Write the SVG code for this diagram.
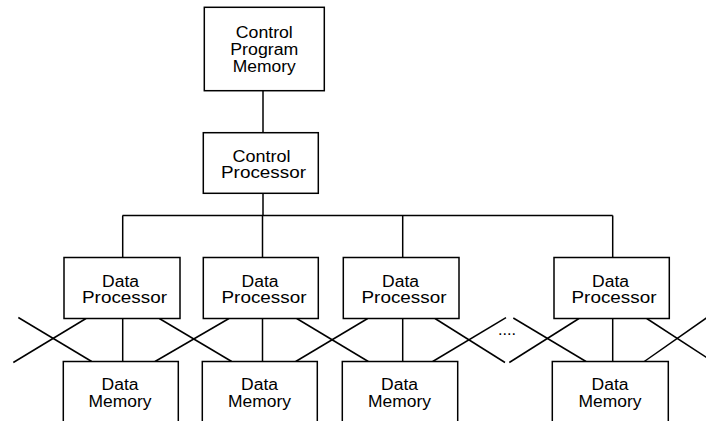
<svg xmlns="http://www.w3.org/2000/svg" width="706" height="421" viewBox="0 0 706 421">
<style>
  .box { fill: #ffffff; stroke: #000000; stroke-width: 1.5; }
  .ln { stroke: #000000; stroke-width: 1.5; fill: none; }
  text { font-family: "Liberation Sans", Arial, sans-serif; font-size: 16px; fill: #000000; text-anchor: middle; }
</style>
<rect width="706" height="421" fill="#ffffff"/>
<g id="connectors">
  <line class="ln" x1="263" y1="90.7" x2="263" y2="132.7"/>
  <line class="ln" x1="263" y1="193.3" x2="263" y2="215.5"/>
  <line class="ln" x1="122.5" y1="215.5" x2="612.7" y2="215.5"/>
  <line class="ln" x1="122.7" y1="215.5" x2="122.7" y2="257.5"/>
  <line class="ln" x1="262.5" y1="215.5" x2="262.5" y2="257.5"/>
  <line class="ln" x1="402.7" y1="215.5" x2="402.7" y2="257.5"/>
  <line class="ln" x1="612.7" y1="215.5" x2="612.7" y2="257.5"/>
  <line class="ln" x1="122.7" y1="318.5" x2="122.7" y2="361.5"/>
  <line class="ln" x1="262.5" y1="318.5" x2="262.5" y2="361.5"/>
  <line class="ln" x1="402.7" y1="318.5" x2="402.7" y2="361.5"/>
  <line class="ln" x1="612.7" y1="318.5" x2="612.7" y2="361.5"/>
  <line class="ln" x1="18.3" y1="317.5" x2="91.7" y2="361.5"/>
  <line class="ln" x1="13.3" y1="362.5" x2="86" y2="318.5"/>
  <line class="ln" x1="159.3" y1="318.5" x2="231.7" y2="361.5"/>
  <line class="ln" x1="155" y1="361.5" x2="229" y2="318.5"/>
  <line class="ln" x1="296.7" y1="318.5" x2="368.3" y2="361.5"/>
  <line class="ln" x1="295.7" y1="361.5" x2="367.7" y2="318.5"/>
  <line class="ln" x1="435" y1="318.5" x2="505" y2="362.5"/>
  <line class="ln" x1="432.7" y1="361.5" x2="506" y2="317.7"/>
  <line class="ln" x1="513.3" y1="318" x2="586" y2="361.5"/>
  <line class="ln" x1="509.3" y1="362.5" x2="579" y2="318.5"/>
  <line class="ln" x1="646.7" y1="318.5" x2="712" y2="361"/>
  <line class="ln" x1="644.3" y1="361.5" x2="712" y2="314"/>
  <text x="507" y="334.5" textLength="18" lengthAdjust="spacingAndGlyphs">....</text>
</g>
<g id="control-program-memory">
  <rect class="box" x="204.3" y="7.3" width="120" height="83.4"/>
  <text x="264.3" y="37.5" textLength="57" lengthAdjust="spacingAndGlyphs">Control</text>
  <text x="264.3" y="54.8" textLength="68" lengthAdjust="spacingAndGlyphs">Program</text>
  <text x="264.3" y="71.5" textLength="63" lengthAdjust="spacingAndGlyphs">Memory</text>
</g>
<g id="control-processor">
  <rect class="box" x="203.3" y="132.7" width="115" height="60.6"/>
  <text x="261.5" y="161.7" textLength="58" lengthAdjust="spacingAndGlyphs">Control</text>
  <text x="263.5" y="177.7" textLength="85" lengthAdjust="spacingAndGlyphs">Processor</text>
</g>
<g id="data-processor-1">
  <rect class="box" x="64" y="257.5" width="116" height="61"/>
  <text x="120.5" y="287.3" textLength="37" lengthAdjust="spacingAndGlyphs">Data</text>
  <text x="124.5" y="303.3" textLength="85" lengthAdjust="spacingAndGlyphs">Processor</text>
</g>
<g id="data-processor-2">
  <rect class="box" x="203.3" y="257.5" width="115" height="61"/>
  <text x="260" y="287.3" textLength="37" lengthAdjust="spacingAndGlyphs">Data</text>
  <text x="264" y="303.3" textLength="85" lengthAdjust="spacingAndGlyphs">Processor</text>
</g>
<g id="data-processor-3">
  <rect class="box" x="343.3" y="257.5" width="115.7" height="61"/>
  <text x="400.5" y="287.3" textLength="37" lengthAdjust="spacingAndGlyphs">Data</text>
  <text x="404" y="303.3" textLength="85" lengthAdjust="spacingAndGlyphs">Processor</text>
</g>
<g id="data-processor-4">
  <rect class="box" x="554" y="257.5" width="115.3" height="61"/>
  <text x="610.5" y="287.3" textLength="37" lengthAdjust="spacingAndGlyphs">Data</text>
  <text x="614" y="303.3" textLength="85" lengthAdjust="spacingAndGlyphs">Processor</text>
</g>
<g id="data-memory-1">
  <rect class="box" x="63.3" y="361.5" width="115" height="80"/>
  <text x="120" y="390" textLength="37" lengthAdjust="spacingAndGlyphs">Data</text>
  <text x="120" y="407.3" textLength="63" lengthAdjust="spacingAndGlyphs">Memory</text>
</g>
<g id="data-memory-2">
  <rect class="box" x="202.3" y="361.5" width="115" height="80"/>
  <text x="259.5" y="390" textLength="37" lengthAdjust="spacingAndGlyphs">Data</text>
  <text x="259.5" y="407.3" textLength="63" lengthAdjust="spacingAndGlyphs">Memory</text>
</g>
<g id="data-memory-3">
  <rect class="box" x="342.3" y="361.5" width="115.4" height="80"/>
  <text x="399.5" y="390" textLength="37" lengthAdjust="spacingAndGlyphs">Data</text>
  <text x="399.5" y="407.3" textLength="63" lengthAdjust="spacingAndGlyphs">Memory</text>
</g>
<g id="data-memory-4">
  <rect class="box" x="552.3" y="361.5" width="116" height="80"/>
  <text x="610" y="390" textLength="37" lengthAdjust="spacingAndGlyphs">Data</text>
  <text x="610" y="407.3" textLength="63" lengthAdjust="spacingAndGlyphs">Memory</text>
</g>
</svg>
